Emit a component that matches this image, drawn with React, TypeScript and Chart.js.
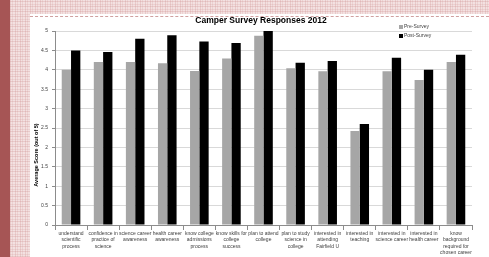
import React, { useEffect, useRef } from "react";
import { Chart, registerables } from "chart.js";

Chart.register(...registerables);

const categories: string[][] = [
  ["understand", "scientific", "process"],
  ["confidence in", "practice of", "science"],
  ["science career", "awareness"],
  ["health career", "awareness"],
  ["know college", "admissions", "process"],
  ["know skills for", "college", "success"],
  ["plan to attend", "college"],
  ["plan to study", "science in", "college"],
  ["interested in", "attending", "Fairfield U"],
  ["interested in", "teaching"],
  ["interested in", "science career"],
  ["interested in", "health career"],
  ["know", "background", "required for", "chosen career"],
];

const preSurvey = [4.0, 4.2, 4.2, 4.17, 3.97, 4.29, 4.88, 4.04, 3.96, 2.42, 3.96, 3.74, 4.2];
const postSurvey = [4.5, 4.46, 4.8, 4.89, 4.73, 4.69, 5.0, 4.18, 4.23, 2.6, 4.31, 4.0, 4.39];

const seriesNames = ["Pre-Survey", "Post-Survey"];
const seriesColors = ["#a6a6a6", "#000000"];
const chartTitle = "Camper Survey Responses 2012";
const yTitle = "Average Score (out of 5)";
const FONT = "'Liberation Sans', Arial, sans-serif";

const overlayPlugin = {
  id: "overlay",
  afterDraw(chart: any) {
    const ctx = chart.ctx as CanvasRenderingContext2D;
    ctx.save();
    ctx.fillStyle = "#000";
    ctx.font = `bold 8.5px ${FONT}`;
    ctx.textAlign = "center";
    ctx.textBaseline = "middle";
    ctx.fillText(chartTitle, 231, 3.5);
    ctx.save();
    ctx.translate(6.5, 138);
    ctx.rotate(-Math.PI / 2);
    ctx.font = `bold 5.5px ${FONT}`;
    ctx.fillText(yTitle, 0, 0);
    ctx.restore();
    ctx.font = `5px ${FONT}`;
    ctx.textAlign = "left";
    const ys = [10, 19];
    seriesNames.forEach((n, i) => {
      ctx.fillStyle = seriesColors[i];
      ctx.fillRect(369, ys[i] - 2, 4, 4);
      ctx.fillStyle = "#404040";
      ctx.fillText(n, 374, ys[i]);
    });
    ctx.restore();
  },
};

export default function App() {
  const ref = useRef<HTMLCanvasElement>(null);
  useEffect(() => {
    if (!ref.current) return;
    const chart = new Chart(ref.current, {
      type: "bar",
      data: {
        labels: categories,
        datasets: [
          {
            label: seriesNames[0],
            data: preSurvey,
            backgroundColor: seriesColors[0],
            barPercentage: 1,
            categoryPercentage: 0.58,
          },
          {
            label: seriesNames[1],
            data: postSurvey,
            backgroundColor: seriesColors[1],
            barPercentage: 1,
            categoryPercentage: 0.58,
          },
        ],
      },
      options: {
        responsive: false,
        animation: false,
        layout: { padding: { left: 0, right: 17, top: 14, bottom: 0 } },
        plugins: {
          legend: { display: false },
          title: { display: false },
          tooltip: { enabled: false },
        },
        scales: {
          x: {
            afterFit: (s: any) => {
              s.height = 32;
            },
            grid: {
              display: true,
              drawOnChartArea: false,
              offset: true,
              tickLength: 5,
              color: "#8c8c8c",
            },
            border: { display: true, color: "#8c8c8c" },
            ticks: {
              padding: 0,
              maxRotation: 0,
              autoSkip: false,
              color: "#404040",
              font: { family: FONT, size: 5, lineHeight: 1.3 },
            },
          },
          y: {
            min: 0,
            max: 5,
            afterFit: (s: any) => {
              s.width = 25;
            },
            grid: {
              color: "#d9d9d9",
              tickLength: 3,
              tickColor: "#8c8c8c",
            },
            border: { display: true, color: "#8c8c8c" },
            ticks: {
              stepSize: 0.5,
              padding: 4,
              color: "#404040",
              font: { family: FONT, size: 5 },
              callback: (v: any) => String(v),
            },
          },
        },
      },
      plugins: [overlayPlugin],
    });
    return () => chart.destroy();
  }, []);

  const plaid =
    "repeating-linear-gradient(90deg, rgba(205,140,140,0.28) 0 1px, transparent 1px 2px, rgba(205,140,140,0.18) 2px 3px, transparent 3px 5px), repeating-linear-gradient(0deg, rgba(205,140,140,0.28) 0 1px, transparent 1px 2px, rgba(205,140,140,0.18) 2px 3px, transparent 3px 5px)";

  return (
    <div
      style={{
        position: "fixed",
        left: 0,
        top: 0,
        width: 489,
        height: 257,
        overflow: "hidden",
        backgroundColor: "#f3e1e1",
        backgroundImage: plaid,
      }}
    >
      <div
        style={{
          position: "absolute",
          left: 0,
          top: 0,
          width: 10,
          height: 257,
          background: "#a65555",
        }}
      />
      <div
        style={{
          position: "absolute",
          left: 30,
          top: 14,
          width: 459,
          height: 243,
          background: "#ffffff",
        }}
      >
        <div
          style={{
            position: "absolute",
            left: 0,
            top: 2,
            width: 459,
            height: 0,
            borderTop: "1px dashed #d0a0a0",
          }}
        />
        <canvas
          ref={ref}
          width={459}
          height={240}
          style={{ position: "absolute", left: 0, top: 3, width: 459, height: 240 }}
        />
      </div>
    </div>
  );
}
